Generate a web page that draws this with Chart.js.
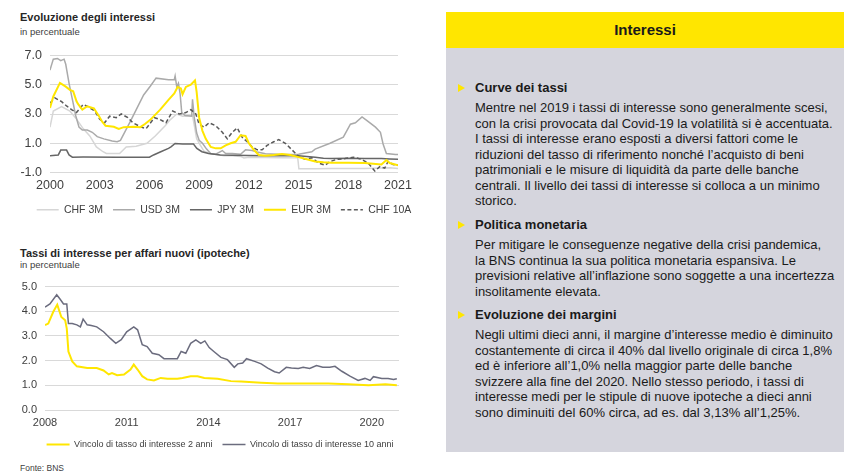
<!DOCTYPE html>
<html lang="it">
<head>
<meta charset="utf-8">
<script src="https://cdn.jsdelivr.net/npm/chart.js@4"></script>
<style>
  html, body { margin: 0; padding: 0; background: #fff; }
  body { width: 850px; height: 475px; position: relative; overflow: hidden;
         font-family: "Liberation Sans", Arial, sans-serif; color: #1a1a1a; }
  .title { position: absolute; left: 20px; font-size: 11px; font-weight: bold; line-height: 13px; color: #262626; }
  .sub { position: absolute; left: 20px; font-size: 9.5px; line-height: 11px; color: #404040; }
  .wrap { position: absolute; left: 0; }
  .source { position: absolute; left: 20px; top: 463px; font-size: 8.5px; line-height: 11px; color: #404040; }
  #panel { position: absolute; left: 446px; top: 12px; width: 398px; height: 440px; background: #d5d5dd; }
  #panel .head { height: 36px; background: #ffe600; text-align: center; font-weight: bold;
                 font-size: 15px; line-height: 36px; color: #1a1a1a; }
  .sec { position: absolute; left: 29px; white-space: nowrap; font-size: 13px; }
  .sec h3 { margin: 0; font-size: 13px; line-height: 16px; font-weight: bold; position: relative; }
  .sec h3::before { content: ""; position: absolute; left: -17px; top: 4px; width: 0; height: 0;
                    border-left: 7px solid #ffe600; border-top: 4px solid transparent; border-bottom: 4px solid transparent; }
  .sec p { margin: 4px 0 0 0; line-height: 15.5px; }
</style>
</head>
<body>

<div class="title" style="top:11px">Evoluzione degli interessi</div>
<div class="sub" style="top:26px">in percentuale</div>
<div class="wrap" style="top:40px"><canvas id="ratesChart" width="448" height="185"></canvas></div>

<div class="title" style="top:247px">Tassi di interesse per affari nuovi (ipoteche)</div>
<div class="sub" style="top:259px">in percentuale</div>
<div class="wrap" style="top:272px"><canvas id="mortgageChart" width="440" height="187"></canvas></div>

<div class="source">Fonte: BNS</div>

<div id="panel">
  <div class="head">Interessi</div>
  <div class="sec" style="top:68px">
    <h3>Curve dei tassi</h3>
    <p>Mentre nel 2019 i tassi di interesse sono generalmente scesi,<br>
    con la crisi provocata dal Covid-19 la volatilità si è accentuata.<br>
    I tassi di interesse erano esposti a diversi fattori come le<br>
    riduzioni del tasso di riferimento nonché l’acquisto di beni<br>
    patrimoniali e le misure di liquidità da parte delle banche<br>
    centrali. Il livello dei tassi di interesse si colloca a un minimo<br>
    storico.</p>
  </div>
  <div class="sec" style="top:205px">
    <h3>Politica monetaria</h3>
    <p>Per mitigare le conseguenze negative della crisi pandemica,<br>
    la BNS continua la sua politica monetaria espansiva. Le<br>
    previsioni relative all’inflazione sono soggette a una incertezza<br>
    insolitamente elevata.</p>
  </div>
  <div class="sec" style="top:295px">
    <h3>Evoluzione dei margini</h3>
    <p>Negli ultimi dieci anni, il margine d’interesse medio è diminuito<br>
    costantemente di circa il 40% dal livello originale di circa 1,8%<br>
    ed è inferiore all’1,0% nella maggior parte delle banche<br>
    svizzere alla fine del 2020. Nello stesso periodo, i tassi di<br>
    interesse medi per le stipule di nuove ipoteche a dieci anni<br>
    sono diminuiti del 60% circa, ad es. dal 3,13% all’1,25%.</p>
  </div>
</div>

<script>
// --- Evoluzione degli interessi (2000-2021) ---
const rateLabels = ['CHF 3M', 'USD 3M', 'JPY 3M', 'EUR 3M', 'CHF 10A'];
const rateXTicks = [2000, 2003, 2006, 2009, 2012, 2015, 2018, 2021];
const rateYTicks = [-1, 1, 3, 5, 7];

const chf3mYears = [2000.0, 2000.2, 2000.7, 2001.2, 2001.6, 2002.0, 2002.4, 2002.8, 2003.2, 2003.4, 2004.2, 2004.6, 2005.2, 2005.85, 2006.35, 2006.95, 2007.25, 2007.65, 2008.0, 2008.6, 2008.85, 2009.05, 2009.3, 2009.65, 2010.0, 2010.5, 2011.0, 2011.5, 2011.7, 2012.0, 2013.0, 2014.0, 2014.95, 2015.02, 2015.5, 2016.0, 2017.0, 2018.0, 2019.0, 2020.0, 2020.5, 2021.0];
const chf3mVals = [2.1, 3.2, 3.5, 3.2, 2.65, 2.0, 1.5, 0.75, 0.42, 0.3, 0.3, 0.75, 0.8, 1.0, 1.5, 2.2, 2.6, 3.0, 2.85, 2.9, 1.3, 0.9, 0.45, 0.3, 0.25, 0.15, 0.15, 0.1, 0.0, 0.05, 0.02, 0.01, 0.0, -0.75, -0.75, -0.75, -0.73, -0.72, -0.72, -0.7, -0.68, -0.72];

const usdYears = [2000.0, 2000.2, 2000.45, 2000.65, 2000.85, 2000.95, 2001.15, 2001.35, 2001.55, 2001.75, 2001.95, 2002.25, 2002.55, 2002.85, 2003.25, 2003.75, 2004.05, 2004.25, 2004.55, 2004.85, 2005.25, 2005.65, 2006.05, 2006.4, 2007.15, 2007.5, 2007.55, 2007.65, 2007.75, 2007.85, 2007.95, 2008.15, 2008.55, 2008.6, 2008.7, 2008.85, 2009.0, 2009.2, 2009.45, 2009.7, 2010.0, 2010.4, 2010.6, 2011.0, 2011.5, 2011.8, 2012.2, 2012.5, 2013.0, 2014.0, 2015.0, 2015.8, 2016.0, 2016.9, 2017.7, 2018.13, 2018.43, 2018.83, 2019.13, 2019.64, 2019.94, 2020.1, 2020.3, 2020.85, 2021.0];
const usdVals = [6.0, 6.75, 6.8, 6.65, 6.75, 6.4, 5.1, 4.0, 2.9, 2.1, 1.9, 1.9, 1.75, 1.45, 1.3, 1.15, 1.1, 1.2, 1.85, 2.5, 3.4, 4.3, 4.9, 5.45, 5.35, 5.35, 5.6, 4.85, 5.1, 4.4, 3.1, 2.9, 2.85, 4.0, 2.8, 1.7, 1.2, 1.0, 0.6, 0.3, 0.25, 0.5, 0.3, 0.3, 0.25, 0.55, 0.5, 0.4, 0.28, 0.23, 0.25, 0.42, 0.6, 1.0, 1.42, 2.3, 2.4, 2.8, 2.55, 2.1, 1.75, 0.95, 0.3, 0.23, 0.23];

const jpyYears = [2000.0, 2000.5, 2000.65, 2001.0, 2001.15, 2001.35, 2002.0, 2004.0, 2006.0, 2006.25, 2006.65, 2007.15, 2007.3, 2007.55, 2008.0, 2008.66, 2008.86, 2009.17, 2009.57, 2010.27, 2011.0, 2012.0, 2013.0, 2014.0, 2015.0, 2015.5, 2016.0, 2016.5, 2017.0, 2018.0, 2019.0, 2020.0, 2020.5, 2021.0];
const jpyVals = [0.15, 0.2, 0.53, 0.53, 0.2, 0.05, 0.06, 0.05, 0.05, 0.2, 0.4, 0.65, 0.75, 0.98, 0.95, 0.95, 0.65, 0.42, 0.3, 0.2, 0.18, 0.17, 0.15, 0.15, 0.15, 0.1, 0.05, -0.02, -0.05, -0.03, -0.05, -0.05, -0.08, -0.1];

const eurYears = [2000.0, 2000.2, 2000.6, 2000.95, 2001.2, 2001.4, 2001.6, 2001.7, 2001.95, 2002.25, 2002.65, 2002.95, 2003.15, 2003.35, 2003.85, 2004.15, 2004.45, 2005.05, 2005.45, 2005.75, 2006.05, 2006.65, 2007.15, 2007.5, 2007.7, 2007.9, 2008.0, 2008.2, 2008.5, 2008.75, 2008.85, 2009.0, 2009.2, 2009.4, 2009.7, 2010.0, 2010.3, 2010.6, 2010.9, 2011.2, 2011.5, 2011.8, 2012.0, 2012.3, 2012.6, 2013.0, 2013.5, 2014.0, 2014.5, 2015.0, 2015.5, 2016.0, 2016.5, 2017.0, 2018.0, 2019.0, 2019.5, 2020.0, 2020.3, 2020.5, 2021.0];
const eurVals = [3.42, 4.2, 5.13, 4.87, 4.65, 4.55, 3.87, 3.67, 3.3, 3.53, 3.38, 2.87, 2.47, 2.2, 2.13, 1.98, 2.1, 2.13, 2.1, 2.33, 2.6, 3.3, 3.97, 4.4, 4.85, 4.75, 4.35, 4.85, 5.0, 5.3, 4.5, 2.75, 1.85, 1.3, 0.75, 0.65, 0.65, 0.85, 1.0, 1.1, 1.55, 1.5, 1.0, 0.55, 0.2, 0.15, 0.2, 0.27, 0.2, 0.05, -0.1, -0.25, -0.3, -0.33, -0.33, -0.35, -0.4, -0.45, -0.15, -0.35, -0.5];

const chf10Years = [2000.0, 2000.3, 2000.7, 2001.0, 2001.3, 2001.6, 2002.0, 2002.3, 2002.7, 2003.0, 2003.3, 2003.6, 2004.0, 2004.3, 2004.7, 2005.0, 2005.5, 2005.8, 2006.0, 2006.3, 2006.6, 2007.0, 2007.4, 2007.8, 2008.2, 2008.5, 2008.8, 2009.0, 2009.3, 2009.6, 2010.0, 2010.4, 2010.7, 2011.0, 2011.3, 2011.6, 2011.9, 2012.2, 2012.5, 2012.8, 2013.1, 2013.5, 2013.8, 2014.2, 2014.6, 2015.0, 2015.4, 2015.8, 2016.2, 2016.6, 2016.9, 2017.3, 2017.8, 2018.3, 2018.8, 2019.2, 2019.6, 2019.9, 2020.2, 2020.4, 2020.7, 2021.0];
const chf10Vals = [3.75, 4.1, 3.85, 3.55, 3.3, 3.1, 3.65, 3.5, 3.2, 2.65, 2.4, 2.85, 2.75, 3.0, 2.75, 2.4, 2.1, 2.0, 2.3, 2.75, 2.65, 2.4, 3.2, 3.0, 3.1, 3.3, 3.0, 2.3, 2.1, 2.4, 2.2, 1.75, 1.3, 1.75, 2.05, 1.4, 1.1, 0.75, 0.55, 0.55, 0.85, 1.1, 1.25, 1.0, 0.55, 0.1, -0.1, 0.0, -0.35, -0.5, -0.25, -0.1, -0.05, 0.05, -0.1, -0.35, -0.9, -0.6, -0.7, -0.25, -0.45, -0.5];

// --- Tassi ipotecari (2008-2020) ---
const hypoLabels = ['Vincolo di tasso di interesse 2 anni', 'Vincolo di tasso di interesse 10 anni'];
const hypoXTicks = [2008, 2011, 2014, 2017, 2020];
const hypoYTicks = [0, 1, 2, 3, 4, 5];

const hypo2Years = [2008.0, 2008.12, 2008.3, 2008.45, 2008.6, 2008.74, 2008.8, 2008.86, 2009.0, 2009.17, 2009.55, 2009.9, 2010.15, 2010.34, 2010.46, 2010.65, 2010.9, 2011.14, 2011.26, 2011.4, 2011.57, 2011.75, 2012.0, 2012.25, 2012.5, 2012.86, 2013.05, 2013.35, 2013.6, 2013.85, 2014.34, 2014.83, 2015.2, 2015.94, 2016.55, 2017.4, 2018.4, 2019.14, 2019.88, 2020.5, 2020.92];
const hypo2Vals = [3.44, 3.5, 3.97, 4.27, 3.77, 3.64, 3.3, 2.37, 1.97, 1.77, 1.7, 1.7, 1.6, 1.44, 1.5, 1.41, 1.44, 1.64, 1.84, 1.64, 1.37, 1.24, 1.2, 1.3, 1.27, 1.27, 1.3, 1.37, 1.37, 1.3, 1.27, 1.17, 1.15, 1.1, 1.07, 1.07, 1.07, 1.04, 1.0, 1.04, 1.0];

const hypo10Years = [2008.0, 2008.18, 2008.43, 2008.55, 2008.68, 2008.8, 2008.86, 2009.0, 2009.17, 2009.3, 2009.4, 2009.55, 2009.7, 2009.9, 2010.15, 2010.4, 2010.6, 2010.8, 2011.0, 2011.26, 2011.4, 2011.57, 2011.75, 2011.94, 2012.18, 2012.37, 2012.6, 2012.86, 2013.0, 2013.17, 2013.35, 2013.54, 2013.72, 2013.87, 2014.03, 2014.2, 2014.46, 2014.7, 2014.95, 2015.08, 2015.26, 2015.4, 2015.7, 2015.94, 2016.18, 2016.43, 2016.6, 2016.86, 2017.05, 2017.3, 2017.48, 2017.72, 2017.97, 2018.2, 2018.46, 2018.65, 2018.9, 2019.2, 2019.5, 2019.75, 2019.94, 2020.06, 2020.37, 2020.6, 2020.8, 2020.92];
const hypo10Vals = [4.17, 4.3, 4.67, 4.5, 4.3, 4.3, 3.5, 3.5, 3.45, 3.37, 3.68, 3.45, 3.42, 3.37, 3.17, 2.9, 2.7, 2.85, 3.17, 3.37, 3.25, 2.65, 2.57, 2.3, 2.24, 2.08, 2.08, 2.08, 2.37, 2.3, 2.7, 2.84, 2.7, 2.8, 2.53, 2.37, 2.13, 2.04, 1.73, 1.87, 1.9, 2.08, 1.97, 1.87, 1.7, 1.55, 1.5, 1.73, 1.7, 1.68, 1.73, 1.68, 1.8, 1.73, 1.73, 1.77, 1.57, 1.37, 1.2, 1.28, 1.2, 1.35, 1.28, 1.28, 1.24, 1.27];

Chart.defaults.font.family = "'Liberation Sans', Arial, sans-serif";
Chart.defaults.color = '#404040';

const toPoints = (xs, ys) => xs.map((x, i) => ({ x, y: ys[i] }));

const line = (label, xs, ys, color, width, order, dash) => ({
    label,
    data: toPoints(xs, ys),
    borderColor: color,
    backgroundColor: color,
    borderWidth: width,
    borderDash: dash || [],
    pointRadius: 0,
    tension: 0,
    order
});

// point-style legend items lose the dash, so copy it back from the dataset
const legendItems = chart => {
    const items = Chart.defaults.plugins.legend.labels.generateLabels(chart);
    items.forEach(item => {
        const ds = chart.data.datasets[item.datasetIndex];
        item.lineDash = ds.borderDash;
        item.lineWidth = ds.borderWidth;
        item.strokeStyle = ds.borderColor;
    });
    return items;
};

// the legend spans the whole canvas; an empty right axis keeps the plot narrower than it
const buildChart = (id, datasets, cfg) => new Chart(document.getElementById(id), {
    type: 'line',
    data: { datasets },
    options: {
        responsive: false,
        animation: false,
        layout: { padding: cfg.padding },
        plugins: {
            tooltip: { enabled: false },
            legend: {
                position: 'bottom',
                labels: {
                    usePointStyle: true,
                    pointStyle: 'line',
                    pointStyleWidth: cfg.legendLine,
                    boxWidth: cfg.legendLine,
                    padding: cfg.legendPad,
                    font: { size: cfg.legendFont },
                    color: '#404040',
                    generateLabels: legendItems,
                    sort: (a, b) => a.datasetIndex - b.datasetIndex
                }
            }
        },
        scales: {
            x: {
                type: 'linear',
                min: cfg.xMin,
                max: cfg.xMax,
                grid: { display: false, drawTicks: false },
                border: { display: false },
                afterBuildTicks: s => { s.ticks = cfg.xTicks.map(v => ({ value: v })); },
                afterFit: s => { s.height = cfg.xHeight; },
                ticks: { callback: v => String(v), font: { size: cfg.tickFont }, padding: cfg.xPad, maxRotation: 0 }
            },
            y: {
                min: cfg.yMin,
                max: cfg.yMax,
                grid: { color: '#d9d9d9', lineWidth: 1, drawTicks: false },
                border: { display: false },
                afterBuildTicks: s => { s.ticks = cfg.yTicks.map(v => ({ value: v })); },
                afterFit: s => { s.width = cfg.yWidth; },
                ticks: { callback: v => v.toFixed(1), font: { size: cfg.tickFont }, padding: 8 }
            },
            spacer: {
                type: 'linear',
                position: 'right',
                grid: { display: false },
                border: { display: false },
                ticks: { display: false },
                afterFit: s => { s.width = cfg.rightWidth; }
            }
        }
    }
});

buildChart('ratesChart', [
    line(rateLabels[0], chf3mYears, chf3mVals, '#d6d6d6', 1.5, 4),
    line(rateLabels[1], usdYears, usdVals, '#aaaaaa', 1.5, 3),
    line(rateLabels[2], jpyYears, jpyVals, '#666666', 1.5, 2),
    line(rateLabels[3], eurYears, eurVals, '#ffe600', 2, 0),
    line(rateLabels[4], chf10Years, chf10Vals, '#595959', 1.5, 1, [4, 2.5])
], {
    padding: { top: 13, left: 0, right: 0, bottom: 0 },
    xMin: 2000, xMax: 2021, xTicks: rateXTicks,
    yMin: -1, yMax: 7, yTicks: rateYTicks,
    yWidth: 50, rightWidth: 50, xHeight: 22, xPad: 6,
    tickFont: 12.5, legendFont: 10.5, legendLine: 22, legendPad: 10
});

buildChart('mortgageChart', [
    line(hypoLabels[0], hypo2Years, hypo2Vals, '#ffe600', 2, 0),
    line(hypoLabels[1], hypo10Years, hypo10Vals, '#6b6c7e', 1.5, 1)
], {
    padding: { top: 12, left: 0, right: 0, bottom: 0 },
    xMin: 2008, xMax: 2021, xTicks: hypoXTicks,
    yMin: 0, yMax: 5, yTicks: hypoYTicks,
    yWidth: 45, rightWidth: 41, xHeight: 20, xPad: 6,
    tickFont: 11, legendFont: 9, legendLine: 23, legendPad: 10
});
</script>
</body>
</html>
